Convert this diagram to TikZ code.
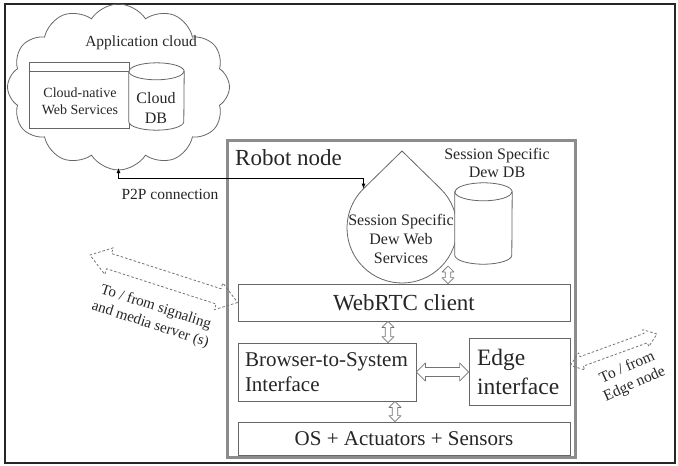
\documentclass[tikz,border=0pt]{standalone}
\usepackage{fontspec}
\setmainfont{Liberation Serif}
\usetikzlibrary{arrows.meta,calc,shapes.symbols}

\tikzset{
  box/.style={draw=black!60, line width=0.8pt, fill=white, inner sep=0pt},
  dbline/.style={draw=black!60, line width=0.8pt, fill=white},
  hollow/.style={draw=black!55, line width=0.7pt, fill=white, line join=round},
  linkdash/.style={draw=black!55, line width=0.8pt, dash pattern=on 2.5pt off 2pt, line join=round},
}
\newcommand{\fs}[2]{\fontsize{#1pt}{#2pt}\selectfont}
% two-headed outline arrow: style, from, to, head length, head half width, shaft half width
\newcommand{\hollowlink}[6][linkdash]{%
  \draw[#1] (#2) -- ($(#2)!#4!(#3)!#5!90:(#3)$) -- ($(#2)!#4!(#3)!#6!90:(#3)$)
    -- ($(#3)!#4!(#2)!#6!-90:(#2)$) -- ($(#3)!#4!(#2)!#5!-90:(#2)$) -- (#3)
    -- ($(#3)!#4!(#2)!#5!90:(#2)$) -- ($(#3)!#4!(#2)!#6!90:(#2)$)
    -- ($(#2)!#4!(#3)!#6!-90:(#3)$) -- ($(#2)!#4!(#3)!#5!-90:(#3)$) -- cycle;}
% database cylinder round node: name, x radius, y radius (plain numbers)
\newcommand{\drawdb}[3]{%
  \draw[dbline] ([yshift=-#3pt]#1.north west) -- ([yshift=#3pt]#1.south west)
    arc[start angle=180, end angle=0, x radius=#2, y radius=#3]
    -- ([yshift=-#3pt]#1.north east) arc[start angle=0, end angle=-180, x radius=#2, y radius=#3] -- cycle;
  \draw[dbline, fill=none] ([yshift=-#3pt]#1.north west) arc[start angle=180, end angle=0, x radius=#2, y radius=#3];}

\begin{document}
\begin{tikzpicture}[x=1pt, y=-1pt, every node/.style={text=black!85}]
\useasboundingbox (0,0) rectangle (678,466);
\draw[black!85, line width=2.5pt] (5,4) rectangle (675,463);

% application cloud
\node[cloud, cloud puffs=12, cloud puff arc=115, cloud ignores aspect, draw=black!60, line width=0.8pt, minimum width=222pt, minimum height=166pt] (appcloud) at (118.5,87) {};
\node[font=\fs{15.5}{18}] (apptitle) at (141,43) {Application cloud};
\node[box, minimum width=100pt, minimum height=66pt] (cnws) at (79,95) {};
\draw[black!60, line width=0.8pt] ([yshift=-10pt]cnws.north west) -- ([yshift=-10pt]cnws.north east);
\node[font=\fs{14}{17}, align=center] (cnwstext) at (80,101) {Cloud-native\\Web Services};
\node[minimum width=55pt, minimum height=67pt, inner sep=0pt] (clouddb) at (156.5,96.5) {};
\drawdb{clouddb}{27.5}{8.5}
\node[font=\fs{16}{20}, align=center] (clouddbtext) at (156,108) {Cloud\\DB};

% robot node
\node[draw=black!45, line width=3pt, minimum width=348pt, minimum height=317pt, inner sep=0pt] (robot) at (401,298.5) {};
\node[font=\fs{23}{27}, anchor=base west, inner sep=0pt] (robottitle) at (235,165) {Robot node};

% dew web services drop and dew db
\draw[black!60, line width=0.8pt, fill=white] (402,151) -- (440.5,188.7) arc[start angle=-45.6, end angle=225.6, radius=55] -- cycle;
\coordinate (p2pA) at (118.5,168);
\coordinate (p2pB) at (363.5,188.7);
\coordinate (dropR) at (448,266);
\node[font=\fs{16}{19}, align=center] (dewws) at (401,239) {Session Specific\\Dew Web\\Services};
\node[minimum width=57pt, minimum height=81pt, inner sep=0pt] (dewdb) at (483.5,223.5) {};
\drawdb{dewdb}{28.5}{9}
\node[font=\fs{16}{18}, align=center] (dewdbtext) at (497,163) {Session Specific\\Dew DB};

% lower boxes
\node[box, minimum width=332pt, minimum height=37pt, font=\fs{23}{27}] (webrtc) at (404,302.5) {WebRTC client};
\node[box, minimum width=178pt, minimum height=58pt, text width=164pt, align=left, font=\fs{21}{25}] (browser) at (327,372) {Browser-to-System\\Interface};
\node[box, minimum width=101pt, minimum height=67pt, text width=85pt, align=left, font=\fs{23.5}{29}] (edge) at (519.5,371.5) {Edge\\interface};
\node[box, minimum width=332pt, minimum height=33pt, font=\fs{21}{25}] (os) at (404,438.5) {OS + Actuators + Sensors};

% hollow arrows
\coordinate (dropW) at (dropR |- webrtc.north);
\coordinate (webB) at ([xshift=-16pt]webrtc.south);
\coordinate (browT) at (webB |- browser.north);
\coordinate (browB) at ([xshift=68pt]browser.south);
\coordinate (osT) at (browB |- os.north);
\coordinate (edgeW) at (browser.east -| edge.west);
\hollowlink[hollow]{dropR}{dropW}{6pt}{6pt}{2.8pt}
\hollowlink[hollow]{webB}{browT}{6pt}{6pt}{2.8pt}
\hollowlink[hollow]{browB}{osT}{6pt}{6pt}{2.8pt}
\hollowlink[hollow]{browser.east}{edgeW}{9pt}{9pt}{4.5pt}

% p2p connection
\draw[black, line width=1.3pt, {Latex[length=5pt,width=4pt]}-{Latex[length=5pt,width=4pt]}] (p2pA) |- ($(p2pB)+(0,-10)$) -- (p2pB);
\node[font=\fs{15.5}{18}] (p2ptext) at (170,194) {P2P connection};

% dashed links to outside
\coordinate (tosig) at (90,255);
\coordinate (toedge) at (657,334);
\coordinate (edgeR) at ([yshift=6pt]edge.east);
\hollowlink{webrtc.west}{tosig}{20pt}{14pt}{8pt}
\hollowlink{edgeR}{toedge}{12pt}{9pt}{5pt}
\node[font=\fs{15}{18}, align=center, rotate=-18] (sigtext) at (153,316) {To / from signaling\\and media server (s)};
\node[font=\fs{15.5}{18}, align=center, rotate=24] (edgetext) at (631,376) {To / from\\Edge node};
\end{tikzpicture}
\end{document}
